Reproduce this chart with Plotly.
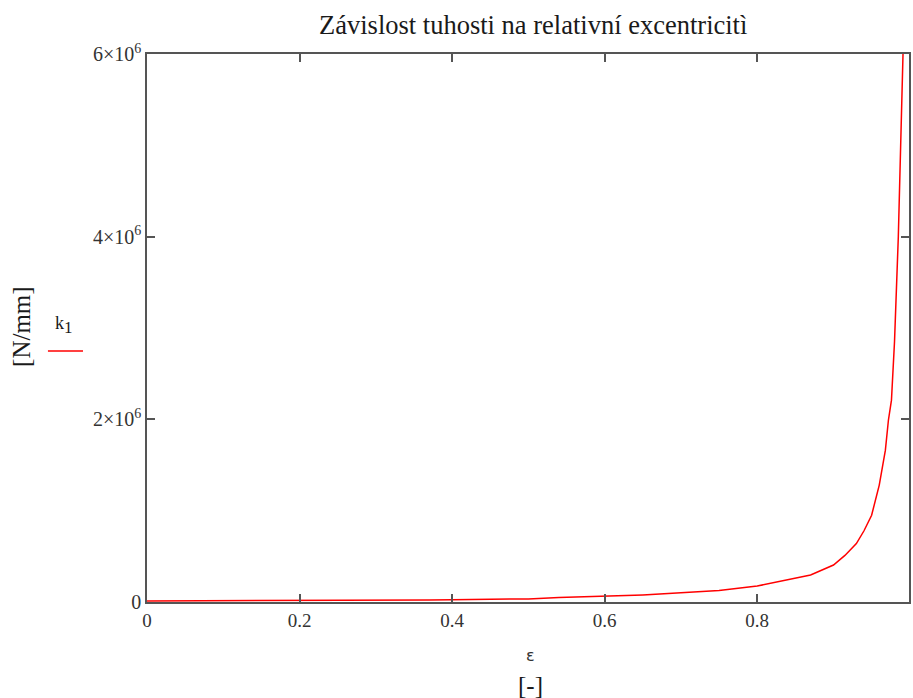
import plotly.graph_objects as go

# relative eccentricity [-]
eps = [0.0, 0.1, 0.2, 0.3, 0.37, 0.4, 0.5, 0.54, 0.6, 0.65, 0.7, 0.75,
       0.8, 0.83, 0.87, 0.9, 0.915, 0.93, 0.94, 0.95, 0.96, 0.968, 0.972,
       0.976, 0.98, 0.985, 0.99, 0.993]
# stiffness k1 [N/mm]
k1 = [12e3, 13e3, 15e3, 18e3, 22e3, 26e3, 34e3, 48e3, 62e3, 78e3, 100e3, 126e3,
      175e3, 225e3, 295e3, 405e3, 510e3, 640e3, 780e3, 950e3, 1.28e6, 1.66e6, 1.99e6,
      2.21e6, 2.85e6, 4.0e6, 5.6e6, 6.6e6]

x_ticks = [0, 0.2, 0.4, 0.6, 0.8]
x_labels = ["0", "0.2", "0.4", "0.6", "0.8"]
y_ticks = [0, 2e6, 4e6, 6e6]
y_labels = ["0", "2×10<sup>6</sup>", "4×10<sup>6</sup>", "6×10<sup>6</sup>"]

serif = "Liberation Serif, Times New Roman, serif"
axis_col = "#555555"

fig = go.Figure()
fig.add_trace(go.Scatter(x=eps, y=k1, mode="lines",
                         line=dict(color="#ff0000", width=1.5),
                         showlegend=False, name="k1"))

fig.update_layout(
    width=913, height=698,
    margin=dict(l=147, r=2, t=54, b=96),
    paper_bgcolor="white", plot_bgcolor="white",
    title=dict(text="Závislost tuhosti na relativní excentricitì",
               x=0.584, xanchor="center", y=0.964, yanchor="middle",
               font=dict(family=serif, size=26.5, color="#1a1a1a")),
    xaxis=dict(range=[0, 0.999], tickvals=x_ticks, ticktext=x_labels,
               ticks="inside", ticklen=8, tickcolor=axis_col, tickwidth=1.5,
               showline=True, linecolor=axis_col, linewidth=1.5, mirror="ticks",
               showgrid=False, zeroline=False,
               tickfont=dict(family=serif, size=19, color="#333333")),
    yaxis=dict(range=[0, 6e6], tickvals=y_ticks, ticktext=y_labels,
               ticks="inside", ticklen=8, tickcolor=axis_col, tickwidth=1.5,
               showline=True, linecolor=axis_col, linewidth=1.5, mirror="ticks",
               showgrid=False, zeroline=False,
               tickfont=dict(family=serif, size=20, color="#333333")),
)

# axis captions
fig.add_annotation(text="ε", x=0.503, y=-0.097, xref="paper", yref="paper",
                   xanchor="center", yanchor="middle", showarrow=False,
                   font=dict(family="DejaVu Sans, sans-serif", size=16, color="#333333"))
fig.add_annotation(text="[-]", x=0.503, y=-0.153, xref="paper", yref="paper",
                   xanchor="center", yanchor="middle", showarrow=False,
                   font=dict(family=serif, size=25, color="#1a1a1a"))
fig.add_annotation(text="[N/mm]", x=-0.164, y=0.502, xref="paper", yref="paper",
                   xanchor="center", yanchor="middle", showarrow=False, textangle=-90,
                   font=dict(family=serif, size=25, color="#1a1a1a"))

# trace key: name above a short red line
fig.add_annotation(text="k<sub><span style='font-size:17px'>1</span></sub>",
                   x=-0.109, y=0.48, xref="paper", yref="paper",
                   xanchor="center", yanchor="bottom", showarrow=False,
                   font=dict(family=serif, size=18, color="#1a1a1a"))
fig.add_shape(type="line", xref="paper", yref="paper",
              x0=-0.13, x1=-0.084, y0=0.458, y1=0.458,
              line=dict(color="#ff0000", width=1.5))

fig.write_html("out.html")
